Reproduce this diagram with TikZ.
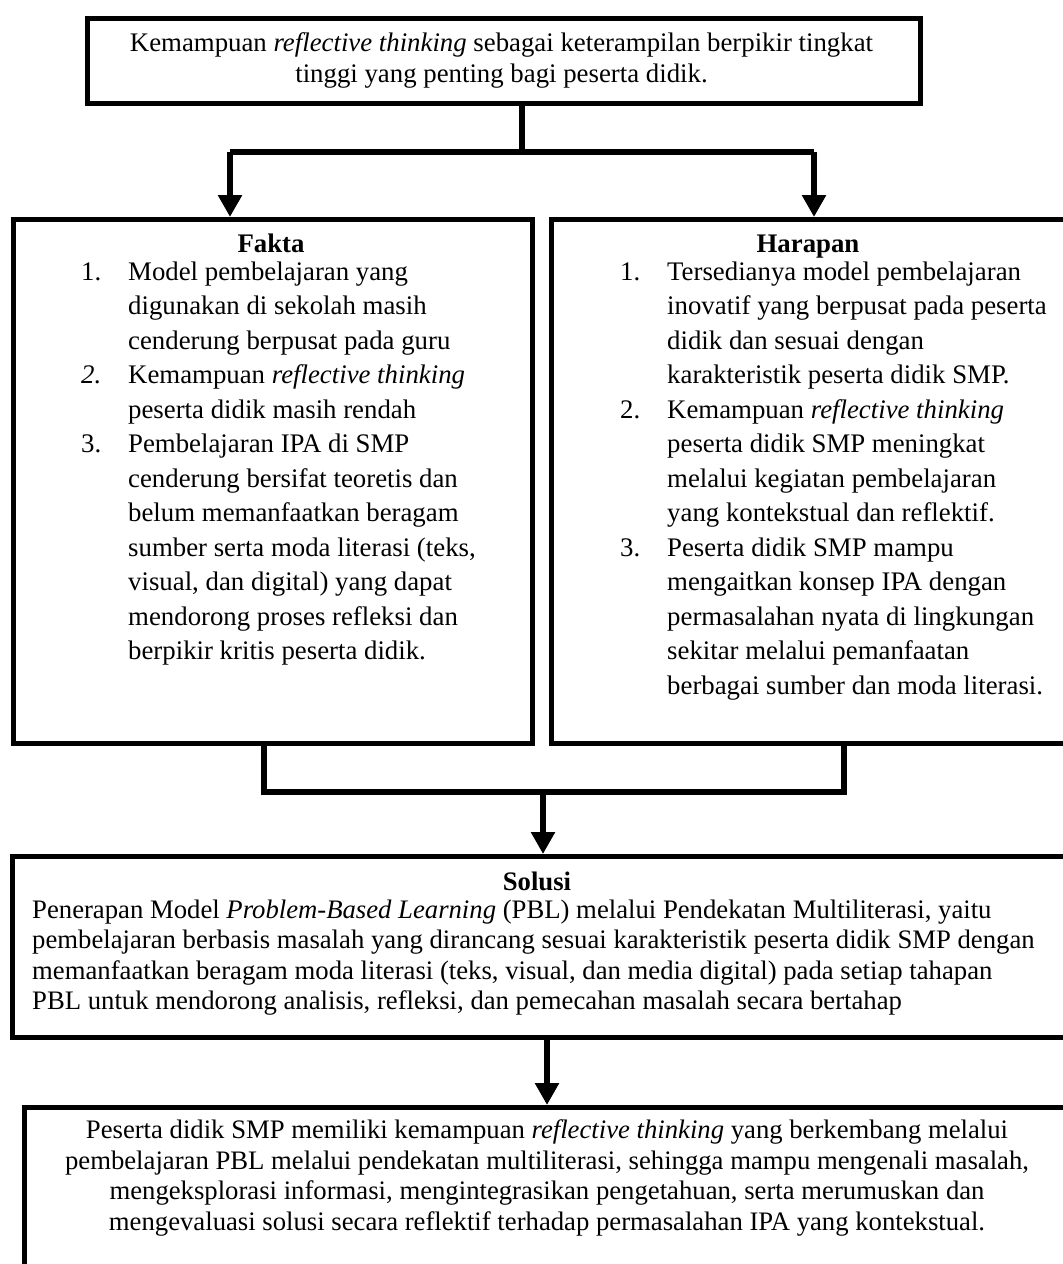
\documentclass[tikz,border=0pt]{standalone}
\usepackage{fontspec}
\setmainfont{Liberation Serif}
\usetikzlibrary{arrows.meta}
\begin{document}
\begin{tikzpicture}[x=1pt,y=-1pt,
  boxed/.style={draw=black,line width=4.5pt,fill=white,inner sep=0pt,anchor=north west},
  conn/.style={draw=black,line width=5.5pt,line join=miter},
  arr/.style={conn,-{Triangle[length=22pt,width=23pt]}},
  txt/.style={inner sep=0pt,font=\fontsize{26.8}{34.5}\selectfont},
  stxt/.style={inner sep=0pt,font=\fontsize{26.7}{30.6}\selectfont}]
\useasboundingbox (0,0) rectangle (1063,1264);
\clip (0,0) rectangle (1063,1264);
\fill[white] (0,0) rectangle (1063,1264);

% boxes
\node[boxed,minimum width=833pt,minimum height=85pt] (top) at (85,16) {};
\node[boxed,minimum width=519pt,minimum height=524pt] (fakta) at (11,217) {};
\node[boxed,minimum width=520pt,minimum height=524pt] (harapan) at (549,217) {};
\node[boxed,minimum width=1058pt,minimum height=181pt] (solusi) at (10,854) {};
\node[boxed,minimum width=1052pt,minimum height=190pt] (hasil) at (22,1105) {};

% junction coordinates
\coordinate (jt) at (522,152);
\coordinate (aL) at (230,152);
\coordinate (aR) at (814,152);
\coordinate (bL) at (264,792);
\coordinate (bR) at (844,792);
\coordinate (jb) at (543,792);
\coordinate (js) at (547,0);

% connectors
\draw[conn] (top.south -| jt) -- (jt);
\draw[conn] (aL) -- (aR);
\draw[arr] (aL) -- (fakta.north -| aL);
\draw[arr] (aR) -- (harapan.north -| aR);
\draw[conn] (fakta.south -| bL) -- (bL) -- (bR) -- (harapan.south -| bR);
\draw[arr] (jb) -- (solusi.north -| jb);
\draw[arr] (solusi.south -| js) -- (hasil.north -| js);

% top text (anchor = baseline of last line)
\node[txt,align=center,anchor=base,font=\fontsize{26.8}{31}\selectfont] (ttop) at (501.5,82)
 {Kemampuan \textit{reflective thinking} sebagai keterampilan berpikir tingkat\\
  tinggi yang penting bagi peserta didik.};

% Fakta
\node[txt,anchor=base,font=\fontsize{26.8}{34.5}\selectfont\bfseries] (hf) at (271,252) {Fakta};
\node[txt,align=left,anchor=base west] (lf) at (81,659.5)
 {\makebox[47pt][l]{1.}Model pembelajaran yang\\
  \hspace*{47pt}digunakan di sekolah masih\\
  \hspace*{47pt}cenderung berpusat pada guru\\
  \makebox[47pt][l]{\textit{2.}}Kemampuan \textit{reflective thinking}\\
  \hspace*{47pt}peserta didik masih rendah\\
  \makebox[47pt][l]{3.}Pembelajaran IPA di SMP\\
  \hspace*{47pt}cenderung bersifat teoretis dan\\
  \hspace*{47pt}belum memanfaatkan beragam\\
  \hspace*{47pt}sumber serta moda literasi (teks,\\
  \hspace*{47pt}visual, dan digital) yang dapat\\
  \hspace*{47pt}mendorong proses refleksi dan\\
  \hspace*{47pt}berpikir kritis peserta didik.};

% Harapan
\node[txt,anchor=base,font=\fontsize{26.8}{34.5}\selectfont\bfseries] (hh) at (808,252) {Harapan};
\node[txt,align=left,anchor=base west] (lh) at (620,694)
 {\makebox[47pt][l]{1.}Tersedianya model pembelajaran\\
  \hspace*{47pt}inovatif yang berpusat pada peserta\\
  \hspace*{47pt}didik dan sesuai dengan\\
  \hspace*{47pt}karakteristik peserta didik SMP.\\
  \makebox[47pt][l]{2.}Kemampuan \textit{reflective thinking}\\
  \hspace*{47pt}peserta didik SMP meningkat\\
  \hspace*{47pt}melalui kegiatan pembelajaran\\
  \hspace*{47pt}yang kontekstual dan reflektif.\\
  \makebox[47pt][l]{3.}Peserta didik SMP mampu\\
  \hspace*{47pt}mengaitkan konsep IPA dengan\\
  \hspace*{47pt}permasalahan nyata di lingkungan\\
  \hspace*{47pt}sekitar melalui pemanfaatan\\
  \hspace*{47pt}berbagai sumber dan moda literasi.};

% Solusi
\node[stxt,anchor=base,font=\fontsize{26.7}{30.6}\selectfont\bfseries] (hs) at (537,890) {Solusi};
\node[stxt,align=left,anchor=base west] (ls) at (32,1009.8)
 {Penerapan Model \textit{Problem-Based Learning} (PBL) melalui Pendekatan Multiliterasi, yaitu\\
  pembelajaran berbasis masalah yang dirancang sesuai karakteristik peserta didik SMP dengan\\
  memanfaatkan beragam moda literasi (teks, visual, dan media digital) pada setiap tahapan\\
  PBL untuk mendorong analisis, refleksi, dan pemecahan masalah secara bertahap};

% Hasil
\node[stxt,align=center,anchor=base] (lb) at (547,1230.5)
 {Peserta didik SMP memiliki kemampuan \textit{reflective thinking} yang berkembang melalui\\
  pembelajaran PBL melalui pendekatan multiliterasi, sehingga mampu mengenali masalah,\\
  mengeksplorasi informasi, mengintegrasikan pengetahuan, serta merumuskan dan\\
  mengevaluasi solusi secara reflektif terhadap permasalahan IPA yang kontekstual.};
\end{tikzpicture}
\end{document}
